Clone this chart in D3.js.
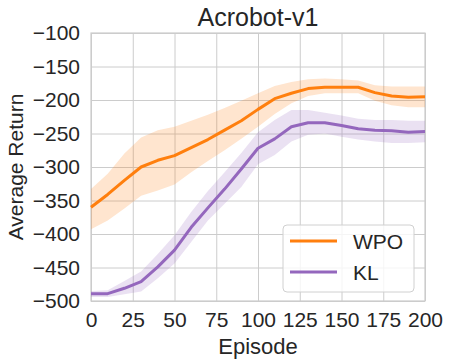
<!DOCTYPE html>
<html>
<head>
<meta charset="utf-8">
<script src="https://cdn.jsdelivr.net/npm/d3@7"></script>
<style>
  body { margin: 0; background: #fff; }
  text { font-family: "Liberation Sans", Arial, sans-serif; fill: #262626; }
</style>
</head>
<body>
<div id="chart"></div>
<script>
var episodes = [0, 10, 20, 30, 40, 50, 60, 70, 80, 90, 100, 110, 120, 130, 140, 150, 160, 170, 180, 190, 200];

var wpoMean  = [-360, -341, -320, -300, -290, -283, -271, -259, -245, -231, -214, -198, -190, -183, -181, -181, -181, -189, -194, -196, -195];
var wpoUpper = [-333, -310, -280, -256, -245, -240, -231, -222, -212, -201, -190, -179, -173, -169, -168, -169, -171, -178, -180, -180, -180];
var wpoLower = [-393, -380, -362, -343, -335, -326, -308, -291, -275, -258, -240, -221, -205, -194, -190, -190, -190, -201, -208, -211, -211];

var klMean  = [-489, -489, -481, -471, -449, -424, -390, -361, -333, -303, -272, -258, -240, -234, -234, -238, -243, -245, -246, -248, -247];
var klUpper = [-485, -484, -470, -456, -430, -402, -367, -336, -308, -279, -248, -230, -215, -215, -219, -223, -228, -230, -230, -231, -231];
var klLower = [-494, -494, -490, -486, -466, -444, -412, -380, -355, -330, -296, -282, -262, -252, -250, -255, -259, -262, -264, -264, -263];

var xTicks = [0, 25, 50, 75, 100, 125, 150, 175, 200];
var yTicks = [-500, -450, -400, -350, -300, -250, -200, -150, -100];

var seriesNames = ["WPO", "KL"];
var seriesColors = ["#ff7f0e", "#9467bd"];

var w = 450, h = 364;
var margin = { top: 33, right: 25, bottom: 63, left: 91 };

var svg = d3.select("#chart").append("svg")
  .attr("width", w)
  .attr("height", h);

var x = d3.scaleLinear().domain([0, 200]).range([margin.left, w - margin.right]);
var y = d3.scaleLinear().domain([-500, -100]).range([h - margin.bottom, margin.top]);

// grid
svg.append("g")
  .attr("transform", "translate(0," + (h - margin.bottom) + ")")
  .call(d3.axisBottom(x).tickValues(xTicks).tickSize(-(h - margin.top - margin.bottom)).tickFormat(""))
  .call(function(g) { g.select(".domain").remove(); })
  .selectAll("line").attr("stroke", "#cccccc").attr("stroke-width", 1);

svg.append("g")
  .attr("transform", "translate(" + margin.left + ",0)")
  .call(d3.axisLeft(y).tickValues(yTicks).tickSize(-(w - margin.left - margin.right)).tickFormat(""))
  .call(function(g) { g.select(".domain").remove(); })
  .selectAll("line").attr("stroke", "#cccccc").attr("stroke-width", 1);

// frame
svg.append("rect")
  .attr("x", margin.left).attr("y", margin.top)
  .attr("width", w - margin.left - margin.right)
  .attr("height", h - margin.top - margin.bottom)
  .attr("fill", "none").attr("stroke", "#cccccc").attr("stroke-width", 1.2);

var series = [
  { mean: wpoMean, lo: wpoLower, hi: wpoUpper },
  { mean: klMean, lo: klLower, hi: klUpper }
];

var area = d3.area()
  .x(function(d) { return x(d.x); })
  .y0(function(d) { return y(d.lo); })
  .y1(function(d) { return y(d.hi); });

var line = d3.line()
  .x(function(d) { return x(d.x); })
  .y(function(d) { return y(d.m); });

series.forEach(function(s, i) {
  var pts = episodes.map(function(e, j) {
    return { x: e, m: s.mean[j], lo: s.lo[j], hi: s.hi[j] };
  });
  svg.append("path").datum(pts)
    .attr("d", area)
    .attr("fill", seriesColors[i])
    .attr("fill-opacity", 0.2);
  svg.append("path").datum(pts)
    .attr("d", line)
    .attr("fill", "none")
    .attr("stroke", seriesColors[i])
    .attr("stroke-width", 3)
    .attr("stroke-linejoin", "round");
});

// tick labels
var fmt = function(d) { return d < 0 ? "\u2212" + Math.abs(d) : d; };

svg.append("g")
  .attr("transform", "translate(0," + (h - margin.bottom) + ")")
  .call(d3.axisBottom(x).tickValues(xTicks).tickSize(0).tickPadding(11).tickFormat(fmt))
  .call(function(g) { g.select(".domain").remove(); })
  .selectAll("text")
  .attr("font-size", 21)
  .attr("font-family", "Liberation Sans, Arial, sans-serif")
  .attr("fill", "#262626");

svg.append("g")
  .attr("transform", "translate(" + margin.left + ",0)")
  .call(d3.axisLeft(y).tickValues(yTicks).tickSize(0).tickPadding(11).tickFormat(fmt))
  .call(function(g) { g.select(".domain").remove(); })
  .selectAll("text")
  .attr("font-size", 21)
  .attr("font-family", "Liberation Sans, Arial, sans-serif")
  .attr("fill", "#262626");

// titles
svg.append("text")
  .attr("x", (margin.left + w - margin.right) / 2)
  .attr("y", 26)
  .attr("text-anchor", "middle")
  .attr("font-size", 25)
  .text("Acrobot-v1");

svg.append("text")
  .attr("x", (margin.left + w - margin.right) / 2)
  .attr("y", 354)
  .attr("text-anchor", "middle")
  .attr("font-size", 22)
  .text("Episode");

svg.append("text")
  .attr("transform", "translate(23," + ((margin.top + h - margin.bottom) / 2) + ") rotate(-90)")
  .attr("text-anchor", "middle")
  .attr("font-size", 21)
  .text("Average Return");

// legend
var legend = svg.append("g").attr("transform", "translate(283,225)");
legend.append("rect")
  .attr("width", 131).attr("height", 67)
  .attr("rx", 4)
  .attr("fill", "#ffffff").attr("fill-opacity", 0.8)
  .attr("stroke", "#d0d0d0").attr("stroke-width", 1);

seriesNames.forEach(function(name, i) {
  var ly = 16 + i * 31;
  legend.append("line")
    .attr("x1", 7).attr("x2", 54)
    .attr("y1", ly).attr("y2", ly)
    .attr("stroke", seriesColors[i]).attr("stroke-width", 3);
  legend.append("text")
    .attr("x", 70).attr("y", ly + 8)
    .attr("font-size", 21)
    .text(name);
});
</script>
</body>
</html>
